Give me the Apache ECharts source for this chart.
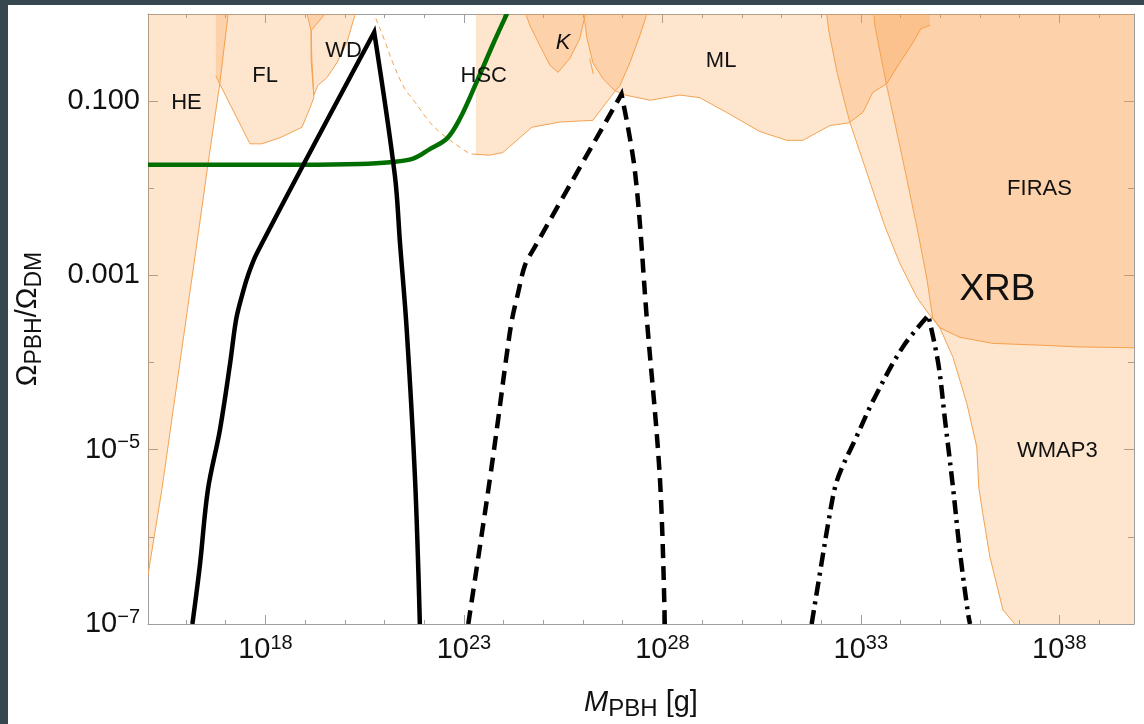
<!DOCTYPE html>
<html>
<head>
<meta charset="utf-8">
<title>PBH abundance constraints</title>
<script src="https://cdn.jsdelivr.net/npm/echarts@6/dist/echarts.min.js"></script>
<style>
  html, body { margin: 0; padding: 0; width: 1144px; height: 724px; overflow: hidden; background: #37474f; }
  #chart { position: absolute; left: 8px; top: 5px; width: 1136px; height: 719px; background: #ffffff; }
</style>
</head>
<body>
<div id="chart"></div>
<script>
// ---- axis ranges and ticks (M in grams, Omega_PBH / Omega_DM) ----
const massRange = [1.1e15, 7.6e39];
const omegaRange = [1e-7, 1];
const massTicks = [1e16, 1e17, 1e18, 1e19, 1e20, 1e21, 1e22, 1e23, 1e24, 1e25, 1e26, 1e27,
                   1e28, 1e29, 1e30, 1e31, 1e32, 1e33, 1e34, 1e35, 1e36, 1e37, 1e38, 1e39];
const massLabelTicks = [1e18, 1e23, 1e28, 1e33, 1e38];
const omegaTicks = [1e-6, 1e-5, 1e-4, 1e-3, 1e-2, 1e-1];
const omegaLabelTicks = [1e-7, 1e-5, 1e-3, 1e-1];

// ---- constraint boundaries, as [log10(M/g), log10(Omega)] ----
const heEdge = [[14.84, -7.08], [15.04, -6.44], [15.39, -5.46], [16.32, -2.48], [16.55, -1.73],
                [16.85, -0.80], [17.06, 0.0], [17.10, 0.15]];
const flEdge = [[16.75, 0.15], [16.75, -0.71], [16.88, -0.83], [17.61, -1.49], [17.91, -1.49],
                [18.37, -1.42], [18.92, -1.30], [19.12, -1.08], [19.22, -0.96], [19.17, -0.53],
                [19.15, -0.19], [19.50, 0.0], [19.50, 0.15]];
const wdEdge = [[19.05, 0.15], [19.05, 0.0], [19.15, -0.19], [19.15, -0.53], [19.22, -0.93],
                [19.32, -0.82], [19.55, -0.73], [19.80, -0.56], [20.05, -0.33], [20.25, -0.02], [20.30, 0.15]];
const hscTail = [[20.66, 0.15], [20.76, -0.02], [21.00, -0.30], [21.21, -0.56], [21.50, -0.85],
                 [21.75, -1.00], [22.10, -1.22], [22.40, -1.36], [22.90, -1.53], [23.15, -1.60], [23.33, -1.61]];
const hscEdge = [[23.30, -1.61], [23.65, -1.62], [23.98, -1.59], [24.71, -1.30], [25.42, -1.24],
                 [26.25, -1.22], [26.80, -0.89], [26.93, -0.82], [27.18, -0.56], [27.43, -0.25],
                 [27.61, 0.0], [27.64, 0.15]];
const kEdge = [[24.55, 0.15], [24.56, 0.0], [24.66, -0.13], [24.91, -0.36], [25.17, -0.59],
               [25.37, -0.67], [25.67, -0.51], [25.92, -0.28], [26.05, -0.02], [26.06, 0.15]];
const kSpur = [[26.17, -0.51], [26.26, -0.69]];
const mlEdge = [[26.02, 0.15], [26.02, 0.0], [26.10, -0.28], [26.25, -0.56], [26.50, -0.74],
                [26.80, -0.88], [27.06, -0.93], [27.69, -0.99], [28.44, -0.93], [28.94, -0.96],
                [29.62, -1.13], [30.46, -1.35], [31.14, -1.45], [31.54, -1.45], [32.22, -1.28],
                [32.70, -1.25], [33.05, -1.13], [33.30, -0.90], [33.65, -0.80], [33.98, -0.56],
                [34.31, -0.33], [34.51, -0.17], [34.74, -0.13], [34.74, 0.15]];
const xrbEdge = [[32.13, 0.15], [32.14, 0.0], [32.19, -0.19], [32.40, -0.67], [32.72, -1.24],
                 [33.15, -1.82], [33.60, -2.43], [33.98, -2.86], [34.41, -3.25], [34.69, -3.43],
                 [34.99, -3.60], [35.49, -3.71], [36.33, -3.78], [37.51, -3.80], [38.44, -3.82],
                 [39.88, -3.83], [40.20, -3.83]];
const wmapEdge = [[33.33, 0.15], [33.33, 0.0], [33.35, -0.13], [33.65, -0.82], [33.98, -1.51],
                  [34.23, -2.05], [34.44, -2.51], [34.66, -3.03], [34.81, -3.49], [34.99, -3.60],
                  [35.32, -3.94], [35.67, -4.47], [35.92, -4.97], [35.97, -5.43], [36.07, -5.73],
                  [36.25, -6.23], [36.58, -6.84], [36.88, -7.0]];

// ---- mass functions and the green bound ----
const solidMF = [[16.16, -7.0], [16.35, -6.32], [16.55, -5.46], [16.85, -4.78], [17.11, -4.01],
                 [17.26, -3.51], [17.41, -3.23], [17.56, -3.00], [17.79, -2.74], [20.74, -0.21],
                 [21.26, -1.85], [21.39, -2.63], [21.56, -3.63], [21.77, -5.35], [21.89, -7.0]];
const dashedMF = [[23.11, -7.0], [23.38, -6.18], [23.65, -5.35], [23.86, -4.66], [24.06, -3.97],
                  [24.21, -3.51], [24.36, -3.21], [24.54, -2.88], [24.74, -2.71], [26.97, -0.92],
                  [27.31, -1.81], [27.61, -3.51], [27.94, -5.35], [28.06, -7.0]];
const dotDashMF = [[31.76, -7.0], [32.01, -6.30], [32.19, -5.81], [32.35, -5.43], [32.52, -5.21],
                   [32.85, -4.89], [33.35, -4.40], [34.06, -3.82], [34.70, -3.46], [34.95, -4.01],
                   [35.12, -4.66], [35.32, -5.43], [35.49, -6.15], [35.70, -6.88], [35.75, -7.0]];
const greenBound = [[15.00, -1.73], [18.87, -1.73], [20.38, -1.72], [21.14, -1.70], [21.72, -1.66],
                    [22.14, -1.55], [22.57, -1.43], [22.90, -1.20], [23.33, -0.77], [23.73, -0.35],
                    [24.08, 0.0], [24.18, 0.10]];

// ---- region names ----
const regionNames = ['HE', 'FL', 'WD', 'HSC', 'K', 'ML', 'FIRAS', 'XRB', 'WMAP3'];
const regionLabelMass = [16.01, 17.99, 19.97, 23.50, 25.50, 29.48, 37.50, 36.44, 37.95];
const regionLabelOmega = [-1.02, -0.71, -0.42, -0.71, -0.33, -0.54, -2.01, -3.17, -5.01];

// ---- styling ----
const FONT = "'Liberation Sans', Arial, Helvetica, sans-serif";
const INK = '#111111';
const FRAME = '#9e9e9e';
const FILL = 'rgba(250, 150, 60, 0.25)';
const EDGE = '#f4a352';
const SMOOTH = 0.35;

const toReal = pts => pts.map(([m, o]) => [Math.pow(10, m), Math.pow(10, o)]);

const regions = [
  { fill: heEdge.concat([[14.8, 0.15], [14.8, -7.1]]), edges: [heEdge] },
  { fill: flEdge, edges: [flEdge.slice(1)] },
  { fill: wdEdge, edges: [wdEdge] },
  { fill: [[23.30, 0.15]].concat(hscEdge), edges: [hscEdge] },
  { fill: kEdge, edges: [kEdge, kSpur] },
  { fill: mlEdge, edges: [mlEdge.slice(0, -1)] },
  { fill: xrbEdge.concat([[40.2, 0.15]]), edges: [xrbEdge] },
  { fill: wmapEdge.concat([[40.2, -7.1], [40.2, 0.15]]), edges: [wmapEdge] }
];

function regionSeries(region) {
  const fillPts = toReal(region.fill);
  const edgeSets = region.edges.map(toReal);
  return {
    type: 'custom',
    coordinateSystem: 'cartesian2d',
    clip: true,
    silent: true,
    z: 1,
    data: [fillPts[0]],
    renderItem: (params, api) => ({
      type: 'group',
      children: [
        { type: 'polygon', shape: { points: fillPts.map(p => api.coord(p)) },
          style: { fill: FILL, stroke: null } }
      ].concat(edgeSets.map(e => ({
        type: 'polyline', shape: { points: e.map(p => api.coord(p)) },
        style: { fill: null, stroke: EDGE, lineWidth: 1 }
      })))
    })
  };
}

// Smooth cubic path through pixel points; tangents break at the listed corner indices.
function smoothPath(px, corners) {
  const n = px.length;
  const tan = px.map((p, i) => {
    if (i === 0 || i === n - 1 || corners.indexOf(i) >= 0) return null;
    const a = px[i - 1], b = px[i + 1];
    const dx = b[0] - a[0], dy = b[1] - a[1];
    const L = Math.hypot(dx, dy) || 1;
    return [dx / L, dy / L];
  });
  let d = 'M' + px[0][0] + ' ' + px[0][1];
  for (let i = 0; i < n - 1; i++) {
    const p = px[i], q = px[i + 1];
    const len = Math.hypot(q[0] - p[0], q[1] - p[1]) * SMOOTH;
    const c1 = tan[i] ? [p[0] + tan[i][0] * len, p[1] + tan[i][1] * len] : p;
    const c2 = tan[i + 1] ? [q[0] - tan[i + 1][0] * len, q[1] - tan[i + 1][1] * len] : q;
    d += ' C' + c1[0] + ' ' + c1[1] + ' ' + c2[0] + ' ' + c2[1] + ' ' + q[0] + ' ' + q[1];
  }
  return d;
}

function curveSeries(pts, corners, stroke, width, dash, z) {
  const real = toReal(pts);
  return {
    type: 'custom', coordinateSystem: 'cartesian2d', clip: true, silent: true, z,
    data: [real[0]],
    renderItem: (params, api) => ({
      type: 'path',
      shape: { pathData: smoothPath(real.map(p => api.coord(p)), corners) },
      style: { fill: 'none', stroke, lineWidth: width, lineDash: dash,
               lineJoin: 'miter', miterLimit: 10, lineCap: 'butt' }
    })
  };
}

const expOf = v => Math.round(Math.log10(v));
const powerLabel = v => {
  const e = expOf(v);
  return '{b|10}{s|' + (e < 0 ? '\u2212' + (-e) : e) + '}';
};
const omegaLabel = v => (expOf(v) >= -3 ? '{b|' + v.toFixed(3) + '}' : powerLabel(v));
const supRich = {
  b: { fontSize: 29, lineHeight: 34, fontFamily: FONT, color: INK },
  s: { fontSize: 20, lineHeight: 16, verticalAlign: 'top', fontFamily: FONT, color: INK }
};

function logAxis(position, range, ticks, tickLen, extra) {
  return Object.assign({
    type: 'log', logBase: 10, position, min: range[0], max: range[1],
    axisLine: { show: false },
    axisTick: { show: true, inside: true, length: tickLen, customValues: ticks,
                lineStyle: { color: FRAME, width: 1 } },
    axisLabel: { show: false },
    splitLine: { show: false },
    minorTick: { show: false },
    minorSplitLine: { show: false }
  }, extra || {});
}
const frameLine = { show: true, onZero: false, lineStyle: { color: FRAME, width: 1 } };

const option = {
  animation: false,
  backgroundColor: '#ffffff',
  grid: { left: 140, right: 10, top: 9, bottom: 100, containLabel: false, outerBoundsMode: 'none' },
  xAxis: [
    logAxis('bottom', massRange, massLabelTicks, 9, {
      axisLine: frameLine,
      axisLabel: { show: true, customValues: massLabelTicks, formatter: powerLabel, margin: 9, rich: supRich },
      name: '{i|M}{sub|PBH}{n| [g]}',
      nameLocation: 'middle',
      nameGap: 61,
      nameTextStyle: {
        fontFamily: FONT, fontSize: 29, color: INK,
        rich: {
          i: { fontSize: 29, fontStyle: 'italic', lineHeight: 36, fontFamily: FONT, color: INK },
          sub: { fontSize: 24, lineHeight: 20, verticalAlign: 'bottom', fontFamily: FONT, color: INK },
          n: { fontSize: 29, lineHeight: 36, fontFamily: FONT, color: INK }
        }
      }
    }),
    logAxis('bottom', massRange, massTicks, 4),
    logAxis('top', massRange, massLabelTicks, 9, { axisLine: frameLine }),
    logAxis('top', massRange, massTicks, 4)
  ],
  yAxis: [
    logAxis('left', omegaRange, omegaLabelTicks, 10, {
      axisLine: frameLine,
      axisLabel: { show: true, customValues: omegaLabelTicks, formatter: omegaLabel, margin: 8, rich: supRich },
      name: '{o|\u03A9}{sub|PBH}{o|/\u03A9}{sub|DM}',
      nameLocation: 'middle',
      nameRotate: 90,
      nameGap: 102,
      nameTextStyle: {
        fontFamily: FONT, fontSize: 29, color: INK,
        rich: {
          o: { fontSize: 29, lineHeight: 36, fontFamily: FONT, color: INK },
          sub: { fontSize: 23, lineHeight: 16, verticalAlign: 'bottom', fontFamily: FONT, color: INK }
        }
      }
    }),
    logAxis('left', omegaRange, omegaTicks, 6),
    logAxis('right', omegaRange, omegaLabelTicks, 10, { axisLine: frameLine }),
    logAxis('right', omegaRange, omegaTicks, 6)
  ],
  series: regions.map(regionSeries).concat([
    curveSeries(hscTail, [], EDGE, 1, [5, 4], 2),
    curveSeries(greenBound, [], '#006e00', 4.5, null, 3),
    curveSeries(solidMF, [9], '#000000', 4.5, null, 4),
    curveSeries(dashedMF, [9], '#000000', 4.5, [14, 8], 4),
    curveSeries(dotDashMF, [8], '#000000', 4.5, [14, 6, 3, 6], 4),
    {
      type: 'custom', coordinateSystem: 'cartesian2d', silent: true, z: 5,
      data: regionNames.map((n, i) => [Math.pow(10, regionLabelMass[i]), Math.pow(10, regionLabelOmega[i])]),
      renderItem: (params, api) => {
        const name = regionNames[params.dataIndex];
        const p = api.coord([api.value(0), api.value(1)]);
        return {
          type: 'text', x: p[0], y: p[1],
          style: {
            text: name, fill: INK, fontFamily: FONT,
            fontSize: name === 'XRB' ? 37 : 22,
            fontStyle: name === 'K' ? 'italic' : 'normal',
            align: 'center', verticalAlign: 'middle'
          }
        };
      }
    }
  ])
};

const chart = echarts.init(document.getElementById('chart'), null, { renderer: 'canvas' });
chart.setOption(option);
</script>
</body>
</html>
